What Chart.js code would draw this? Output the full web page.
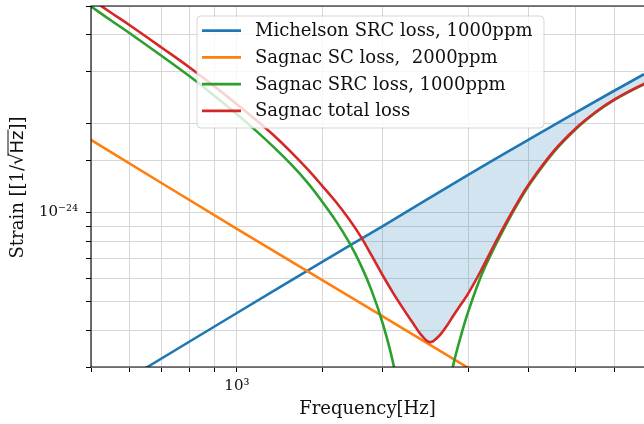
<!DOCTYPE html>
<html>
<head>
<meta charset="utf-8">
<script src="https://cdn.jsdelivr.net/npm/chart.js@4.4.1/dist/chart.umd.min.js"></script>
<style>
html,body{margin:0;padding:0;background:#fff;}
#wrap{width:644px;height:424px;}
</style>
</head>
<body>
<div id="wrap"><canvas id="c" width="644" height="424"></canvas></div>
<script>
// ---- data ----
const seriesLabels = ['Michelson SRC loss, 1000ppm', 'Sagnac SC loss,  2000ppm', 'Sagnac SRC loss, 1000ppm', 'Sagnac total loss'];
const seriesColors = ['#1f77b4', '#ff7f0e', '#2ca02c', '#d62728'];
const xTitle = 'Frequency[Hz]';
const yTitleParts = ['Strain [[1/', '\u221A', 'Hz', ']]'];
const xLabelledTicks = [1000];
const xLabelTexts = ['10\u00B3'];
const yLabelledTicks = [1e-24];
const yLabelTexts = ['10\u207B\u00B2\u2074'];
const xRange = [500, 6918];
const yRange = [3e-25, 5e-24];

const michelsonFreq   = [480, 500, 653.5, 1000, 1500, 2000, 3000, 4000, 5000, 6918, 7500];
const michelsonStrain = [2.22e-25, 2.31e-25, 3.00e-25, 4.57e-25, 6.81e-25, 9.00e-25, 1.34e-24, 1.765e-24, 2.18e-24, 2.94e-24, 3.16e-24];

const scFreq   = [480, 500, 1000, 2000, 3000, 4000, 7500];
const scStrain = [1.83e-24, 1.76e-24, 8.8e-25, 4.45e-25, 2.98e-25, 2.24e-25, 1.2e-25];

const srcFreq   = [500, 550, 600, 700, 800, 900, 1000, 1100, 1200, 1300, 1400, 1500, 1600, 1700, 1800, 1900, 2000, 2100, 2200,
                   2450, 2700, 2800, 2900, 3000, 3200, 3400, 3600, 3800, 4000, 4500, 5000, 5500, 6000, 6500, 7000];
const srcStrain = [4.985e-24, 4.467e-24, 4.053e-24, 3.386e-24, 2.885e-24, 2.479e-24, 2.150e-24, 1.878e-24, 1.645e-24, 1.443e-24,
                   1.260e-24, 1.088e-24, 9.368e-25, 7.980e-25, 6.662e-25, 5.397e-25, 4.204e-25, 3.101e-25, 2.080e-25,
                   null, 2.330e-25, 3.086e-25, 3.833e-25, 4.612e-25, 6.169e-25, 7.628e-25, 9.152e-25, 1.073e-24, 1.233e-24,
                   1.597e-24, 1.913e-24, 2.179e-24, 2.399e-24, 2.581e-24, 2.743e-24];

const totalFreq   = [500, 550, 600, 700, 800, 900, 1000, 1100, 1200, 1300, 1400, 1500, 1600, 1700, 1800, 1900, 2000, 2100, 2200,
                     2300, 2400, 2500, 2600, 2700, 2800, 2900, 3000, 3200, 3400, 3600, 3800, 4000, 4500, 5000, 5500, 6000, 6500, 7000];
const totalStrain = [5.284e-24, 4.743e-24, 4.311e-24, 3.612e-24, 3.090e-24, 2.667e-24, 2.326e-24, 2.044e-24, 1.805e-24, 1.589e-24,
                     1.399e-24, 1.231e-24, 1.087e-24, 9.537e-25, 8.303e-25, 7.118e-25, 6.12e-25, 5.346e-25, 4.746e-25,
                     4.263e-25, 3.856e-25, 3.641e-25, 3.789e-25, 4.095e-25, 4.491e-25, 4.892e-25, 5.313e-25, 6.428e-25, 7.808e-25,
                     9.302e-25, 1.087e-24, 1.245e-24, 1.610e-24, 1.925e-24, 2.189e-24, 2.409e-24, 2.589e-24, 2.751e-24];

// ---- helpers ----
function pts(fs, vs) { return fs.map((f, i) => ({x: f, y: vs[i]})); }
function near(a, b) { return Math.abs(Math.log10(a) - Math.log10(b)) < 1e-6; }
function labelFor(v, list, texts) {
  for (let i = 0; i < list.length; i++) if (near(v, list[i])) return texts[i];
  return '';
}
const SERIF = "'DejaVu Serif', serif";
const SANS = "'DejaVu Sans', sans-serif";
Chart.defaults.font.family = SERIF;
Chart.defaults.color = '#111';

const gridColor = (ctx, edge) => {
  const t = ctx.tick;
  if (!t) return 'rgba(0,0,0,0)';
  if (edge && near(t.value, edge)) return 'rgba(0,0,0,0)';
  return '#d6d6d6';
};
const tickColor = (ctx, edge) => {
  const t = ctx.tick;
  if (!t) return 'rgba(0,0,0,0)';
  if (edge && near(t.value, edge)) return 'rgba(0,0,0,0)';
  return '#000';
};

const decor = {
  id: 'decor',
  afterDatasetsDraw(chart) {
    const {ctx, chartArea: a} = chart;
    ctx.save();
    // spines
    ctx.strokeStyle = '#000';
    ctx.lineWidth = 1.1;
    ctx.beginPath();
    ctx.moveTo(a.right + 2, a.top);
    ctx.lineTo(a.left, a.top);
    ctx.lineTo(a.left, a.bottom);
    ctx.lineTo(a.right + 2, a.bottom);
    ctx.stroke();

    // legend box
    const bx = 197, by = 16, bw = 347, bh = 112, r = 4;
    ctx.beginPath();
    ctx.moveTo(bx + r, by);
    ctx.arcTo(bx + bw, by, bx + bw, by + bh, r);
    ctx.arcTo(bx + bw, by + bh, bx, by + bh, r);
    ctx.arcTo(bx, by + bh, bx, by, r);
    ctx.arcTo(bx, by, bx + bw, by, r);
    ctx.closePath();
    ctx.fillStyle = 'rgba(255,255,255,0.8)';
    ctx.fill();
    ctx.strokeStyle = 'rgba(204,204,204,0.8)';
    ctx.lineWidth = 1;
    ctx.stroke();
    ctx.font = '18px ' + SERIF;
    ctx.textBaseline = 'middle';
    ctx.textAlign = 'left';
    for (let i = 0; i < seriesLabels.length; i++) {
      const y = 30.7 + i * 26.7;
      ctx.strokeStyle = seriesColors[i];
      ctx.lineWidth = 2.8;
      ctx.beginPath();
      ctx.moveTo(202, y);
      ctx.lineTo(241, y);
      ctx.stroke();
      ctx.fillStyle = '#111';
      ctx.fillText(seriesLabels[i], 255, y + 1);
    }

    // y axis title with sqrt vinculum
    ctx.translate(18, 187.5);
    ctx.rotate(-Math.PI / 2);
    const fonts = ['18px ' + SERIF, '18px ' + SANS, '18px ' + SANS, '18px ' + SERIF];
    const widths = yTitleParts.map((p, i) => { ctx.font = fonts[i]; return ctx.measureText(p).width; });
    const total = widths.reduce((s, w) => s + w, 0);
    let x = -total / 2;
    const starts = [];
    ctx.fillStyle = '#111';
    ctx.textBaseline = 'middle';
    for (let i = 0; i < yTitleParts.length; i++) {
      ctx.font = fonts[i];
      starts.push(x);
      ctx.fillText(yTitleParts[i], x, 0);
      x += widths[i];
    }
    ctx.strokeStyle = '#111';
    ctx.lineWidth = 1;
    ctx.beginPath();
    ctx.moveTo(starts[1] + widths[1] * 0.8, -10);
    ctx.lineTo(starts[2] + widths[2] + 1, -10);
    ctx.stroke();
    ctx.restore();
  }
};

const common = {pointRadius: 0, borderWidth: 2.6, clip: 0, tension: 0.4, capBezierPoints: false, spanGaps: false};

new Chart(document.getElementById('c'), {
  type: 'line',
  data: {
    datasets: [
      Object.assign({label: seriesLabels[0], data: pts(michelsonFreq, michelsonStrain), borderColor: seriesColors[0],
        fill: {target: 3, above: 'rgba(31,119,180,0.2)', below: 'rgba(0,0,0,0)'}, order: 3}, common),
      Object.assign({label: seriesLabels[1], data: pts(scFreq, scStrain), borderColor: seriesColors[1], fill: false, order: 2}, common),
      Object.assign({label: seriesLabels[2], data: pts(srcFreq, srcStrain), borderColor: seriesColors[2], fill: false, order: 1}, common),
      Object.assign({label: seriesLabels[3], data: pts(totalFreq, totalStrain), borderColor: seriesColors[3], fill: false, order: 0}, common)
    ]
  },
  options: {
    responsive: false,
    animation: false,
    elements: {line: {capBezierPoints: false}},
    layout: {padding: {left: 0, right: 0, top: 6, bottom: 0}},
    plugins: {legend: {display: false}, tooltip: {enabled: false}},
    scales: {
      x: {
        type: 'logarithmic', min: xRange[0], max: xRange[1],
        afterFit(s) { s.height = 57; s.paddingLeft = 0; s.paddingRight = 0; },
        border: {display: false},
        grid: {color: (c) => gridColor(c, xRange[1]), tickColor: (c) => tickColor(c, xRange[1]), tickLength: 5, lineWidth: 1, drawTicks: true},
        ticks: {autoSkip: false, maxRotation: 0, minRotation: 0, padding: 5, color: '#111', font: {size: 15},
          callback: (v) => labelFor(v, xLabelledTicks, xLabelTexts)},
        title: {display: true, text: xTitle, color: '#111', font: {size: 18}, padding: {top: 0, bottom: 4}}
      },
      y: {
        type: 'logarithmic', min: yRange[0], max: yRange[1],
        afterFit(s) { s.width = 91; s.paddingTop = 0; s.paddingBottom = 0; },
        border: {display: false},
        grid: {color: (c) => gridColor(c, null), tickColor: (c) => tickColor(c, null), tickLength: 5, lineWidth: 1, drawTicks: true},
        ticks: {autoSkip: false, padding: 8, color: '#111', font: {size: 15},
          callback: (v) => labelFor(v, yLabelledTicks, yLabelTexts)}
      }
    }
  },
  plugins: [decor]
});
</script>
</body>
</html>
